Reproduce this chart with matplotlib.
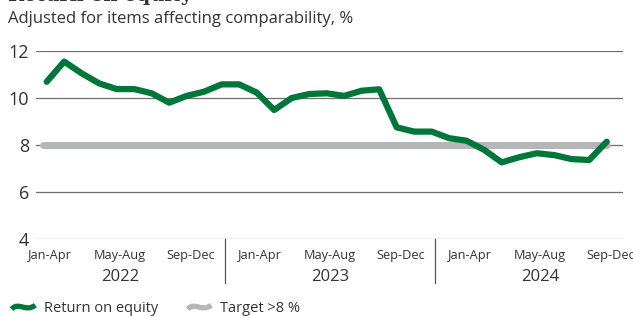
import numpy as np
import matplotlib
matplotlib.use("Agg")
import matplotlib.pyplot as plt
from matplotlib.lines import Line2D
from matplotlib.path import Path
import matplotlib.transforms as mtransforms

plt.rcParams['font.family'] = ['Open Sans', 'DejaVu Sans']

# monthly return on equity, Jan 2022 .. Sep 2024 (33 points)
roe = [10.69, 11.55, 11.05, 10.62, 10.38, 10.38, 10.2, 9.8, 10.09, 10.27,
       10.58, 10.58, 10.23, 9.49, 10.0, 10.17, 10.2, 10.09, 10.31, 10.37,
       8.75, 8.57, 8.57, 8.29, 8.18, 7.79, 7.26, 7.48, 7.65, 7.57,
       7.4, 7.36, 8.14]
target = 8
periods = ['Jan-Apr', 'May-Aug', 'Sep-Dec']
years = ['2022', '2023', '2024']
yticks = [4, 6, 8, 10, 12]

green = '#00773a'
grey = '#b4b6b8'
txt = '#333333'

fig = plt.figure(figsize=(6.33, 3.16), dpi=100)
ax = fig.add_axes([36/633, 77/316, 587/633, 188/316])

x = np.arange(len(roe))
ax.plot([x[0] - 0.2, x[-1]], [target, target], color=grey, lw=5,
        solid_capstyle='round', zorder=2)
ax.plot(x, roe, color=green, lw=4.5, solid_capstyle='round',
        solid_joinstyle='round', zorder=3)

ax.set_xlim(-0.61, 32.93)
ax.set_ylim(4, 12)
ax.set_yticks(yticks)
ax.yaxis.grid(True, color='#6e6e6e', lw=0.9)
ax.set_axisbelow(True)
for s in ax.spines.values():
    s.set_visible(False)
ax.tick_params(axis='y', length=0, labelsize=13, colors=txt, pad=5)
ax.set_xticks([])

trans = mtransforms.blended_transform_factory(ax.transData, ax.transAxes)
for k, yr in enumerate(years):
    for j, p in enumerate(periods):
        ax.text(0.2 + 12*k + 4*j, -0.09, p, transform=trans, ha='center',
                va='center', fontsize=9.2, color=txt)
    ax.text(4.2 + 12*k, -0.2, yr, transform=trans, ha='center',
            va='center', fontsize=12, color=txt)
for d in [10.2, 22.2]:
    ax.plot([d, d], [0, -0.234], transform=trans, color='#555555', lw=0.9,
            clip_on=False)

fig.text(8/633, 1 - 1/316, 'Return on equity', family='DejaVu Serif',
         fontweight='bold', fontsize=14, color=txt, va='baseline')
fig.text(8/633, 1 - 19/316, 'Adjusted for items affecting comparability, %',
         fontsize=12, color=txt, va='center')

# wavy legend symbol
wave = Path([(-1, -0.15), (-0.45, 0.55), (0.2, -0.45), (1, 0.2)],
            [Path.MOVETO, Path.CURVE4, Path.CURVE4, Path.CURVE4])
handles = [Line2D([], [], ls='none', marker=wave, markersize=17,
                  markeredgewidth=3.8, markeredgecolor=green,
                  fillstyle='none'),
           Line2D([], [], ls='none', marker=wave, markersize=17,
                  markeredgewidth=3.8, markeredgecolor=grey,
                  fillstyle='none')]
fig.legend(handles, ['Return on equity', 'Target >8 %'], loc='center left',
           bbox_to_anchor=(15/633, 1 - 309/316), ncol=2, frameon=False,
           fontsize=10.5, handlelength=1.1, handletextpad=0.9,
           columnspacing=2.2, labelcolor=txt, borderpad=0, borderaxespad=0)

fig.savefig('out.png', dpi=100)
